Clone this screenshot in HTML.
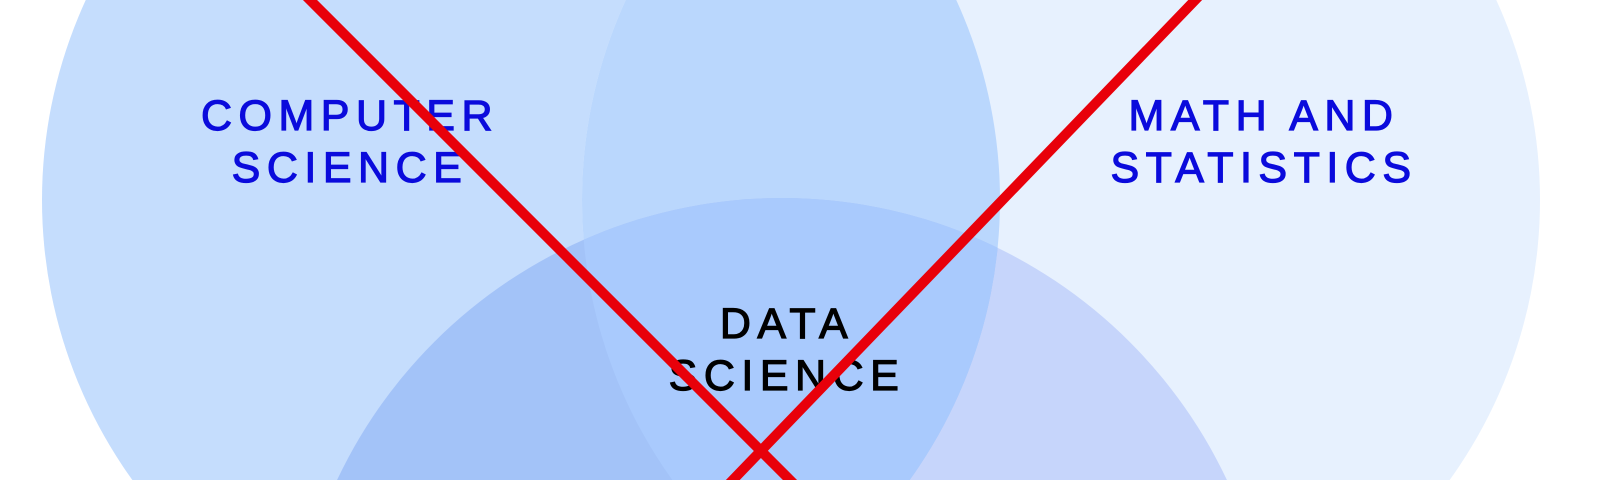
<!DOCTYPE html>
<html><head><meta charset="utf-8"><style>
html,body{margin:0;padding:0;background:#fff;width:1600px;height:480px;overflow:hidden}
svg{display:block}
text{font-family:"Liberation Sans",sans-serif;font-size:43px;letter-spacing:6.5px;text-anchor:middle;stroke-width:1.2px}
</style></head><body>
<svg width="1600" height="480" viewBox="0 0 1600 480" overflow="hidden">
<defs>
<clipPath id="cL"><circle cx="521" cy="200" r="479"/></clipPath>
<clipPath id="cR"><circle cx="1061" cy="200" r="479"/></clipPath>
<clipPath id="cB"><circle cx="782" cy="690" r="492"/></clipPath>
<clipPath id="frame"><rect width="1600" height="480"/></clipPath>
</defs>
<rect width="1600" height="480" fill="#fff"/>
<g clip-path="url(#frame)">
<circle cx="521" cy="200" r="479" fill="#c5ddfd"/>
<circle cx="1061" cy="200" r="479" fill="#e7f1fe"/>
<circle cx="1061" cy="200" r="479" fill="#bad7fd" clip-path="url(#cL)"/>
<circle cx="782" cy="690" r="492" fill="#c6d5fb"/>
<g clip-path="url(#cB)">
<circle cx="521" cy="200" r="479" fill="#a3c3f8"/>
<g clip-path="url(#cL)"><circle cx="1061" cy="200" r="479" fill="#a9cafd"/></g>
</g>
</g>
<g fill="#0b0bdc" stroke="#0b0bdc">
<text x="350" y="130">COMPUTER</text><text x="350" y="182">SCIENCE</text></g>
<g fill="#0b0bdc" stroke="#0b0bdc">
<text x="1264" y="130">MATH AND</text><text x="1264" y="182">STATISTICS</text></g>
<g fill="#000" stroke="#000">
<text x="787" y="338">DATA</text><text x="787" y="390">SCIENCE</text></g>
<g clip-path="url(#frame)">
<line x1="305" y1="-5" x2="795" y2="485" stroke="#e8000a" stroke-width="10"/>
<line x1="1200" y1="-5" x2="728" y2="485" stroke="#e8000a" stroke-width="10"/>
</g>
</svg>
</body></html>
